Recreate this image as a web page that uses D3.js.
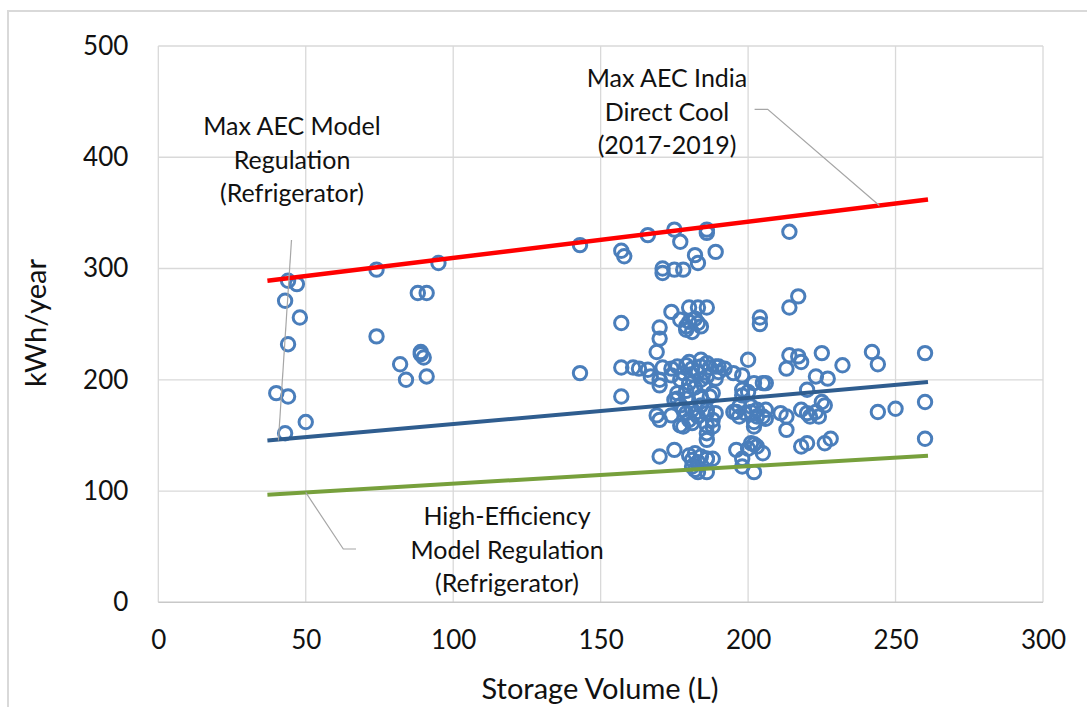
<!DOCTYPE html>
<html><head><meta charset="utf-8">
<script src="https://cdn.jsdelivr.net/npm/d3@7"></script>
<style>
html,body{margin:0;padding:0;background:#fff;}
text{font-family:Lato, "Open Sans", sans-serif;fill:#111;}
</style></head>
<body>
<svg id="chart" width="1087" height="707"></svg>
<script>
// ---- data ----
const xTicks = [0, 50, 100, 150, 200, 250, 300];
const yTicks = [0, 100, 200, 300, 400, 500];
const xTitle = "Storage Volume (L)";
const yTitle = "kWh/year";

// regulation lines (storage volume endpoints, kWh/year)
const lineVolumes = [37, 261];
const maxAecIndia = [289, 362];
const maxAecModel = [145.5, 198];
const highEfficiency = [96.7, 131.8];

// models: [storage volume L, kWh/year]
const models = [
  [44,289],[47,286],[43,271],[48,256],[44,232],[40,188],[44,185],[50,162],[43,152],
  [74,299],[95,305],[88,278],[91,278],[74,239],[82,214],[89,225],[89,223],[90,220],[84,200],[91,203],
  [143,321],[157,316],[158,311],[166,330],[175,335],[177,324],[186,335],[186,332],[189,315],[182,312],[183,305],
  [171,300],[171,296],[175,299],[178,299],
  [157,251],[174,261],[180,265],[183,265],[186,265],[177,254],[179,248],[180,252],[182,255],[183,251],[184,248],
  [181,243],[179,245],[170,247],[170,237],[169,225],
  [214,333],[217,275],[214,265],[204,256],[204,250],
  [143,206],[157,211],[161,211],[163,210],[166,209],[171,211],[174,210],[176,212],[179,213],[181,210],[184,212],
  [187,211],[190,212],[192,210],[180,216],[184,218],
  [167,203],[170,200],[170,195],[174,204],[177,200],[184,200],[186,203],[189,201],[186,215],[189,212],[190,207],
  [178,206],[181,205],[183,207],[180,197],[182,193],[185,195],[179,190],[176,188],
  [157,185],[176,183],[179,183],[184,185],[187,185],[188,188],
  [175,182],[177,177],[179,170],[181,173],[184,177],[186,170],[188,164],[188,158],[186,152],[169,168],[170,164],
  [174,168],[177,159],[178,158],[181,161],[180,164],[183,167],[186,159],[186,173],[189,170],[182,170],[178,173],[186,146],
  [170,131],[175,137],[180,132],[182,134],[181,128],[183,126],[184,131],[182,119],[183,117],[186,117],[186,129],[188,129],[181,122],
  [195,206],[198,204],[196,171],[196,137],
  [200,218],[202,197],[205,197],[206,197],[223,203],[227,201],[220,191],[198,191],[200,189],[198,186],[225,180],[226,177],
  [260,180],[260,224],[242,225],[244,214],[225,224],[232,213],[214,222],[217,221],[218,216],[213,210],
  [244,171],[250,174],[211,170],[213,167],[218,173],[220,170],[221,167],[223,171],[224,167],
  [195,171],[197,167],[199,170],[201,171],[203,167],[205,167],[206,165],[202,162],[197,176],[201,176],[203,173],[206,173],
  [213,155],[202,158],[260,147],[218,140],[220,143],[226,143],[228,147],
  [200,138],[202,142],[205,134],[198,129],[198,122],[202,117],[201,143],[203,140],[186,129]
];

// annotations
const annotations = [
  {lines:["Max AEC Model","Regulation","(Refrigerator)"], cx:292, baseline:135},
  {lines:["Max AEC India","Direct Cool","(2017-2019)"], cx:667, baseline:87},
  {lines:["High-Efficiency","Model Regulation","(Refrigerator)"], cx:507, baseline:525}
];

// ---- drawing ----
const svg = d3.select("#chart");
const pLeft = 158.3, pRight = 1043, pTop = 46, pBottom = 602.3;
const x = d3.scaleLinear().domain([0, 300]).range([pLeft, pRight]);
const y = d3.scaleLinear().domain([0, 500]).range([pBottom, pTop]);

// outer frame
svg.append("rect").attr("x", 8).attr("y", 11).attr("width", 1100).attr("height", 720)
  .attr("fill", "none").attr("stroke", "#d9d9d9").attr("stroke-width", 2);

// gridlines
svg.append("g").selectAll("line").data(yTicks.filter(d => d > 0)).join("line")
  .attr("x1", pLeft).attr("x2", pRight).attr("y1", d => y(d)).attr("y2", d => y(d))
  .attr("stroke", "#d9d9d9").attr("stroke-width", 1.3);
svg.append("g").selectAll("line").data(xTicks).join("line")
  .attr("y1", pTop).attr("y2", pBottom).attr("x1", d => x(d)).attr("x2", d => x(d))
  .attr("stroke", "#d9d9d9").attr("stroke-width", 1.3);
// x axis line
svg.append("line").attr("x1", pLeft).attr("x2", pRight).attr("y1", pBottom).attr("y2", pBottom)
  .attr("stroke", "#c8c8c8").attr("stroke-width", 1.6);

// axes tick labels via d3 axes
const xAxis = svg.append("g").attr("transform", `translate(0,${pBottom})`)
  .call(d3.axisBottom(x).tickValues(xTicks).tickSize(0).tickPadding(28));
xAxis.select(".domain").remove();
xAxis.selectAll("text").attr("font-size", 26).attr("fill", "#111").style("font-family", "Lato");

const yAxis = svg.append("g").attr("transform", `translate(${pLeft},0)`)
  .call(d3.axisLeft(y).tickValues(yTicks).tickSize(0).tickPadding(30));
yAxis.select(".domain").remove();
yAxis.selectAll("text").attr("font-size", 26).attr("fill", "#111").style("font-family", "Lato");

// axis titles
svg.append("text").attr("x", 600).attr("y", 699).attr("text-anchor", "middle")
  .attr("font-size", 29).text(xTitle);
svg.append("text").attr("transform", "translate(46,323) rotate(-90)").attr("text-anchor", "middle")
  .attr("font-size", 29).text(yTitle);

// scatter
svg.append("g").selectAll("circle").data(models).join("circle")
  .attr("cx", d => x(d[0])).attr("cy", d => y(d[1])).attr("r", 6.7)
  .attr("fill", "none").attr("stroke", "#4a7ebb").attr("stroke-width", 3);

// regulation lines
const lineGen = d3.line().x(d => x(d[0])).y(d => y(d[1]));
const regLines = [
  {vals: highEfficiency, color: "#77a03c", w: 4},
  {vals: maxAecModel, color: "#2f5d8f", w: 4},
  {vals: maxAecIndia, color: "#ff0000", w: 4.5}
];
regLines.forEach(l => {
  svg.append("path").datum(lineVolumes.map((v, i) => [v, l.vals[i]]))
    .attr("d", lineGen).attr("fill", "none").attr("stroke", l.color).attr("stroke-width", l.w);
});

// leader lines
const interp = (vals, v) => vals[0] + (vals[1] - vals[0]) * (v - lineVolumes[0]) / (lineVolumes[1] - lineVolumes[0]);
const leaders = [
  [[291.5, 240], [x(lineVolumes[0]) + 11, y(maxAecModel[0])]],
  [[754.6, 109.3], [767.7, 109.3], [x(244.5), y(interp(maxAecIndia, 244.5))]],
  [[356, 549], [343.3, 549], [x(50), y(interp(highEfficiency, 50))]]
];
leaders.forEach(p => {
  svg.append("polyline").attr("points", p.map(q => q.join(",")).join(" "))
    .attr("fill", "none").attr("stroke", "#a6a6a6").attr("stroke-width", 1.2);
});

// annotation texts
annotations.forEach(a => {
  const t = svg.append("text").attr("text-anchor", "middle").attr("font-size", 25);
  a.lines.forEach((s, i) => {
    t.append("tspan").attr("x", a.cx).attr("y", a.baseline + i * 33.5).text(s);
  });
});
</script>
</body></html>
